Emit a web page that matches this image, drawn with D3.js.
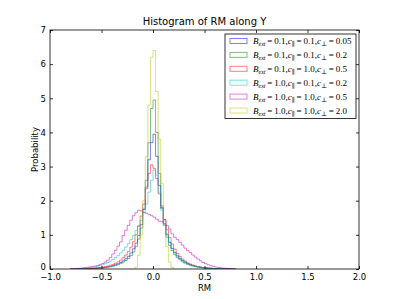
<!DOCTYPE html>
<html>
<head>
<meta charset="utf-8">
<script src="https://cdn.jsdelivr.net/npm/d3@7"></script>
<style>
  body { margin: 0; background: #fff; }
  text { font-family: "DejaVu Sans", sans-serif; fill: #000; }
  .math { font-family: "Liberation Serif", "DejaVu Serif", serif; }
</style>
</head>
<body>
<div id="chart"></div>
<script>
// bin width shared by every histogram
const binWidth = 0.025;

// left edge of the first bin for each series
const blueStart = -0.8;
const greenStart = -0.75;
const redStart = -0.8;
const cyanStart = -0.8;
const magentaStart = -0.8;
const yellowStart = -0.175;

// bin heights (probability density)
const blueVals = [0.001,0.002,0.003,0.004,0.005,0.007,0.009,0.012,0.015,0.02,0.025,0.032,0.04,0.05,0.064,0.08,0.1,0.125,0.155,0.19,0.24,0.3,0.37,0.47,0.59,0.76,0.98,1.3,1.75,2.4,3.2,3.7,
  3.95,3.3,2.45,1.78,1.32,1.0,0.78,0.6,0.48,0.38,0.31,0.25,0.2,0.16,0.13,0.1,0.08,0.065,0.05,0.04,0.032,0.025,0.02,0.015,0.012,0.009,0.007,0.005,0.004,0.003,0.002,0.001];
const greenVals = [0.002,0.003,0.004,0.005,0.006,0.008,0.011,0.015,0.02,0.025,0.032,0.04,0.05,0.063,0.08,0.1,0.125,0.16,0.2,0.25,0.31,0.39,0.5,0.66,0.88,1.2,1.75,2.6,3.7,4.7,
  4.95,4.0,2.8,1.85,1.28,0.93,0.69,0.54,0.42,0.33,0.27,0.21,0.17,0.135,0.105,0.085,0.067,0.053,0.043,0.034,0.027,0.021,0.016,0.012,0.009,0.007,0.005,0.004,0.003,0.002];
const redVals = [0.002,0.003,0.004,0.006,0.008,0.01,0.013,0.017,0.022,0.028,0.036,0.045,0.056,0.07,0.088,0.11,0.135,0.17,0.21,0.26,0.33,0.41,0.51,0.64,0.8,1.0,1.25,1.55,1.9,2.35,2.8,3.05,
  2.95,2.65,2.2,1.8,1.45,1.15,0.92,0.73,0.58,0.46,0.37,0.29,0.23,0.18,0.145,0.115,0.09,0.072,0.057,0.045,0.036,0.028,0.022,0.017,0.013,0.01,0.008,0.006,0.004,0.003,0.002,0.001];
const cyanVals = [0.005,0.008,0.011,0.015,0.02,0.025,0.031,0.04,0.05,0.062,0.08,0.1,0.12,0.15,0.19,0.23,0.28,0.34,0.4,0.47,0.55,0.64,0.74,0.86,0.98,1.12,1.27,1.42,1.65,1.9,2.25,2.6,
  2.9,2.75,2.25,1.72,1.33,1.03,0.79,0.61,0.49,0.39,0.31,0.25,0.2,0.165,0.135,0.105,0.085,0.068,0.053,0.043,0.034,0.027,0.021,0.016,0.012,0.009,0.007,0.005,0.004,0.003,0.002,0.001];
const magentaVals = [0.007,0.011,0.016,0.022,0.03,0.04,0.05,0.06,0.07,0.085,0.1,0.13,0.16,0.2,0.26,0.34,0.44,0.55,0.67,0.79,0.98,1.13,1.28,1.43,1.56,1.65,1.72,1.7,1.66,1.63,1.6,1.56,
  1.52,1.46,1.4,1.38,1.44,1.27,1.17,1.03,0.93,0.86,0.78,0.7,0.61,0.54,0.48,0.41,0.35,0.29,0.24,0.19,0.155,0.125,0.098,0.077,0.058,0.044,0.034,0.025,0.019,0.014,0.01,0.007];
const yellowVals = [0.05,0.4,1.0,2.0,3.3,4.8,6.2,6.4,5.2,3.8,2.5,1.4,0.65,0.2,0.04];

// legend labels: [Bext, c_par, c_perp]
const labelParams = [
  ["0.1", "0.1", "0.05"],
  ["0.1", "0.1", "0.2"],
  ["0.1", "1.0", "0.5"],
  ["1.0", "0.1", "0.2"],
  ["1.0", "1.0", "0.5"],
  ["1.0", "1.0", "2.0"]
];
const seriesColors = ["#0000ff", "#008000", "#ff0000", "#00bfbf", "#bf00bf", "#bfbf00"];

const xTicks = [-1.0, -0.5, 0.0, 0.5, 1.0, 1.5, 2.0];
const yTicks = [0, 1, 2, 3, 4, 5, 6, 7];

const series = [
  { start: blueStart, vals: blueVals },
  { start: greenStart, vals: greenVals },
  { start: redStart, vals: redVals },
  { start: cyanStart, vals: cyanVals },
  { start: magentaStart, vals: magentaVals },
  { start: yellowStart, vals: yellowVals }
];

const width = 399, height = 299;
const plotLeft = 50, plotRight = 359, plotTop = 30, plotBottom = 269;

const svg = d3.select("#chart").append("svg")
  .attr("width", width)
  .attr("height", height);

const x = d3.scaleLinear().domain([-1, 2]).range([plotLeft, plotRight]);
const y = d3.scaleLinear().domain([0, 7]).range([plotBottom, plotTop]);

// clip so the step outlines stay inside the axes
svg.append("clipPath").attr("id", "clip")
  .append("rect").attr("x", plotLeft).attr("y", plotTop)
  .attr("width", plotRight - plotLeft).attr("height", plotBottom - plotTop);

// build the outline of a step histogram
function stepPoints(s) {
  const pts = [[s.start, 0]];
  s.vals.forEach((v, i) => {
    const x0 = s.start + i * binWidth;
    pts.push([x0, v], [x0 + binWidth, v]);
  });
  pts.push([s.start + s.vals.length * binWidth, 0]);
  return pts;
}

const line = d3.line().x(d => x(d[0])).y(d => y(d[1]));

svg.append("g").attr("clip-path", "url(#clip)")
  .selectAll("path")
  .data(series)
  .enter()
  .append("path")
  .attr("d", d => line(stepPoints(d)))
  .attr("fill", "none")
  .attr("stroke", (d, i) => seriesColors[i])
  .attr("stroke-opacity", 0.5)
  .attr("stroke-width", 1);

// axes, ticks pointing inwards on all four sides
const fmt = d3.format(".1f");
svg.append("g").attr("transform", `translate(0,${plotBottom})`)
  .call(d3.axisBottom(x).tickValues(xTicks).tickFormat(fmt).tickSizeInner(-3).tickSizeOuter(0).tickPadding(5));
svg.append("g").attr("transform", `translate(0,${plotTop})`)
  .call(d3.axisTop(x).tickValues(xTicks).tickFormat("").tickSizeInner(-3).tickSizeOuter(0));
const yAxisG = svg.append("g").attr("transform", `translate(${plotLeft},0)`)
  .call(d3.axisLeft(y).tickValues(yTicks).tickFormat(d3.format("d")).tickSizeInner(-3).tickSizeOuter(0).tickPadding(4));
svg.append("g").attr("transform", `translate(${plotRight},0)`)
  .call(d3.axisRight(y).tickValues(yTicks).tickFormat("").tickSizeInner(-3).tickSizeOuter(0));

svg.selectAll(".domain").remove();
svg.selectAll(".tick line").attr("stroke", "#000").attr("stroke-width", 0.8);
svg.selectAll(".tick text").attr("font-size", 8.5).attr("font-family", "DejaVu Sans").attr("fill", "#000");
// lift the "0" label a little so it clears the first x label
yAxisG.selectAll(".tick text").filter(d => d === 0).attr("dy", "0.1em");

// frame
svg.append("rect")
  .attr("x", plotLeft).attr("y", plotTop)
  .attr("width", plotRight - plotLeft).attr("height", plotBottom - plotTop)
  .attr("fill", "none").attr("stroke", "#000").attr("stroke-width", 0.8);

// title and axis labels
svg.append("text").attr("x", (plotLeft + plotRight) / 2).attr("y", 25)
  .attr("text-anchor", "middle").attr("font-size", 10)
  .text("Histogram of RM along Y");
svg.append("text").attr("x", (plotLeft + plotRight) / 2).attr("y", 291)
  .attr("text-anchor", "middle").attr("font-size", 8.5)
  .text("RM");
svg.append("text")
  .attr("transform", `translate(38,${(plotTop + plotBottom) / 2}) rotate(-90)`)
  .attr("text-anchor", "middle").attr("font-size", 8.5)
  .text("Probability");

// legend
const legX = 225, legY = 34, legW = 131, rowH = 13.9;
const legend = svg.append("g");
legend.append("rect")
  .attr("x", legX).attr("y", legY)
  .attr("width", legW).attr("height", rowH * labelParams.length + 1)
  .attr("fill", "#fff").attr("stroke", "#000").attr("stroke-width", 0.8);

const eq = "\u2009=\u2009";
labelParams.forEach((p, i) => {
  const cy = legY + 7 + i * rowH;
  legend.append("rect")
    .attr("x", legX + 5).attr("y", cy - 2.5)
    .attr("width", 17).attr("height", 5)
    .attr("fill", "none")
    .attr("stroke", seriesColors[i]).attr("stroke-opacity", 0.5).attr("stroke-width", 1);
  const t = legend.append("text").attr("class", "math")
    .attr("x", legX + 28).attr("y", cy + 3)
    .attr("font-size", 9);
  t.append("tspan").attr("font-style", "italic").text("B");
  t.append("tspan").attr("font-style", "italic").attr("font-size", 6).attr("dy", 2).text("ext");
  t.append("tspan").attr("dy", -2).text(eq + p[0] + ",");
  t.append("tspan").attr("font-style", "italic").text("c");
  t.append("tspan").attr("font-size", 6.5).attr("dy", 2).text("\u2225");
  t.append("tspan").attr("dy", -2).text(eq + p[1] + ",");
  t.append("tspan").attr("font-style", "italic").text("c");
  t.append("tspan").attr("font-size", 6.5).attr("dy", 2).text("\u22a5");
  t.append("tspan").attr("dy", -2).text(eq + p[2]);
});
</script>
</body>
</html>
